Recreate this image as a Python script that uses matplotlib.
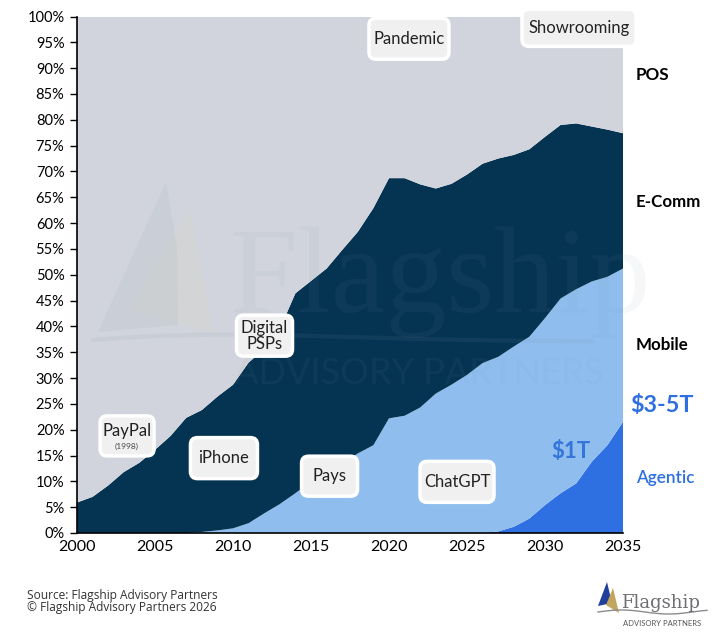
import matplotlib
matplotlib.use('Agg')
import matplotlib.pyplot as plt
from matplotlib.patches import Polygon, FancyBboxPatch
from matplotlib.ticker import MultipleLocator, FuncFormatter
from matplotlib.transforms import IdentityTransform
import numpy as np

plt.rcParams['font.family'] = ['Lato', 'DejaVu Sans']

years = list(range(2000, 2036))

# share of payments by channel, %
agentic = [0] * 27 + [0.3, 1.2, 2.8, 5.4, 7.7, 9.6, 13.8, 17.0, 21.5]
mobile = [0, 0, 0, 0, 0, 0, 0, 0, 0.2, 0.5,
          0.9, 1.9, 3.8, 5.6, 7.7, 10.0, 12.0, 13.5, 15.4, 17.0,
          22.2, 22.7, 24.3, 27.0, 28.7, 30.6, 32.9, 33.8, 34.9, 35.2,
          36.2, 37.7, 37.6, 34.9, 32.6, 29.7]
ecomm = [5.9, 7.0, 9.2, 11.8, 13.6, 16.1, 18.8, 22.3, 23.6, 25.9,
         27.8, 31.1, 31.8, 33.9, 38.7, 38.8, 39.2, 41.3, 42.9, 45.9,
         46.5, 46.0, 43.2, 39.7, 38.9, 38.8, 38.6, 38.4, 37.1, 36.3,
         35.1, 33.6, 32.1, 30.0, 28.5, 26.2]
pos = [94.1, 93.0, 90.8, 88.2, 86.4, 83.9, 81.2, 77.7, 76.2, 73.6,
       71.3, 67.0, 64.4, 60.5, 53.6, 51.2, 48.8, 45.2, 41.7, 37.1,
       31.3, 31.3, 32.5, 33.3, 32.4, 30.6, 28.5, 27.5, 26.8, 25.7,
       23.3, 21.0, 20.7, 21.3, 21.9, 22.6]

colors = ['#2E6FE2', '#8EBDEE', '#053452', '#D1D4DC']

# milestone call-outs: (label, year, share)
events = [
    ('Pandemic', 2021.28, 95.7),
    ('Showrooming', 2032.18, 97.8),
    ('Digital\nPSPs', 2012.02, 38.2),
    ('PayPal', 2003.21, 18.8),
    ('iPhone', 2009.42, 14.5),
    ('Pays', 2016.19, 11.0),
    ('ChatGPT', 2024.36, 9.9),
]
box_px = [(80, 41), (114, 37), (56, 41), (54, 40), (67, 41), (56, 40),
          (74, 41)]

W, H = 720, 638
fig = plt.figure(figsize=(W / 100, H / 100), dpi=100)
ax = fig.add_axes([77 / W, 1 - 533 / H, 546 / W, 516.5 / H])


def px(x, y):
    return (x / W, 1 - y / H)


ax.stackplot(years, agentic, mobile, ecomm, pos, colors=colors,
             linewidth=0, zorder=1)
ax.set_xlim(2000, 2035)
ax.set_ylim(0, 100)
ax.xaxis.set_major_locator(MultipleLocator(5))
ax.yaxis.set_major_locator(MultipleLocator(5))
ax.yaxis.set_major_formatter(FuncFormatter(lambda v, p: f'{v:.0f}%'))
ax.tick_params(axis='y', length=5, width=1, labelsize=10.5, pad=4)
ax.tick_params(axis='x', length=0, labelsize=11.5, pad=5)
for s in ['top', 'right']:
    ax.spines[s].set_visible(False)
for s in ['left', 'bottom']:
    ax.spines[s].set_linewidth(1.2)
    ax.spines[s].set_zorder(10)

# faint watermark
wm = dict(facecolor='#7F93A8', alpha=0.09, edgecolor='none', zorder=2,
          transform=fig.transFigure)
ax.add_patch(Polygon([px(166, 182), px(98, 332), px(178, 325),
                      px(177, 247)], **wm))
ax.add_patch(Polygon([px(190, 208), px(128, 310), px(213, 332)],
                     facecolor='#D9D6C0', alpha=0.18, edgecolor='none',
                     zorder=2, transform=fig.transFigure))
sx = np.linspace(93, 592, 60)
sy = 340 - 10 * np.sin((sx - 93) / 120) * np.exp(-(sx - 93) / 250)
ax.plot(sx / W, 1 - sy / H, color='#7F93A8', alpha=0.10, lw=3,
        transform=fig.transFigure, zorder=2)
ax.text(*px(230, 312), 'Flagship', family=['Liberation Serif'],
        fontsize=88, color='#7F93A8', alpha=0.07, ha='left', va='baseline',
        transform=fig.transFigure, zorder=2)
ax.text(*px(234, 373), 'ADVISORY PARTNERS', fontsize=26, color='#7F93A8',
        alpha=0.07, ha='left', va='center', transform=fig.transFigure,
        zorder=2)

# call-out boxes, sized in pixels around each milestone
for (label, x, y), (bw, bh) in zip(events, box_px):
    cx, cy = ax.transData.transform((x, y))
    b = FancyBboxPatch((cx - bw / 2, cy - bh / 2), bw, bh,
                       boxstyle='round,pad=0,rounding_size=7',
                       facecolor='#F0F0F0', edgecolor='white', linewidth=2.5,
                       transform=IdentityTransform(), zorder=6, clip_on=False)
    ax.add_artist(b)
    if label == 'PayPal':
        ax.text(x, y + 0.9, label, fontsize=12, ha='center', va='center',
                color='#222222', zorder=7)
        ax.text(x, y - 2.0, '(1998)', fontsize=6, ha='center', va='center',
                color='#444444', zorder=7)
    else:
        ax.text(x, y, label, fontsize=12, ha='center', va='center',
                color='#222222', zorder=7, linespacing=1.0, clip_on=False)

ax.text(2031.67, 15.8, '$1T', fontsize=16, fontweight='bold',
        color='#3474DB', ha='center', va='center', zorder=7)

# right-hand channel labels
fig.text(*px(636, 75), 'POS', fontsize=12.3, fontweight='bold', va='center')
fig.text(*px(636, 202), 'E-Comm', fontsize=12.2, fontweight='bold',
         va='center')
fig.text(*px(636, 345), 'Mobile', fontsize=12.2, fontweight='bold',
         va='center')
fig.text(*px(630, 406), '$3-5T', fontsize=16.8, fontweight='bold',
         color='#2E6FE2', va='center')
fig.text(*px(636, 478), 'Agentic', fontsize=12.3, fontweight='semibold',
         color='#2E6FE2', va='center')

# footer
fig.text(*px(27, 595), 'Source: Flagship Advisory Partners',
         family=['Open Sans', 'DejaVu Sans'], fontsize=8.6, color='#333333',
         va='center')
fig.text(*px(27, 607), '\u00a9 Flagship Advisory Partners 2026',
         family=['Open Sans', 'DejaVu Sans'], fontsize=8.6, color='#333333',
         va='center')

# logo
fig.patches.append(Polygon([px(607, 582), px(598, 606), px(612, 603)],
                           facecolor='#1F3F9A', edgecolor='none',
                           transform=fig.transFigure))
fig.patches.append(Polygon([px(613, 588), px(606, 605), px(619, 613)],
                           facecolor='#C2A55E', edgecolor='none',
                           transform=fig.transFigure))
lx = np.linspace(598, 707, 40)
ly = 612 - 2 * np.sin((lx - 598) / 15)
fig.lines.append(plt.Line2D(lx / W, 1 - ly / H, color='#8A8C8F', lw=1,
                            transform=fig.transFigure))
fig.text(*px(621, 608), 'Flagship', family=['DejaVu Serif'],
         fontsize=13, color='#6D6E71', va='baseline')
fig.text(*px(662, 623), 'ADVISORY PARTNERS', fontsize=5.5,
         color='#555555', ha='center', va='center')

fig.savefig('out.png', dpi=100)
